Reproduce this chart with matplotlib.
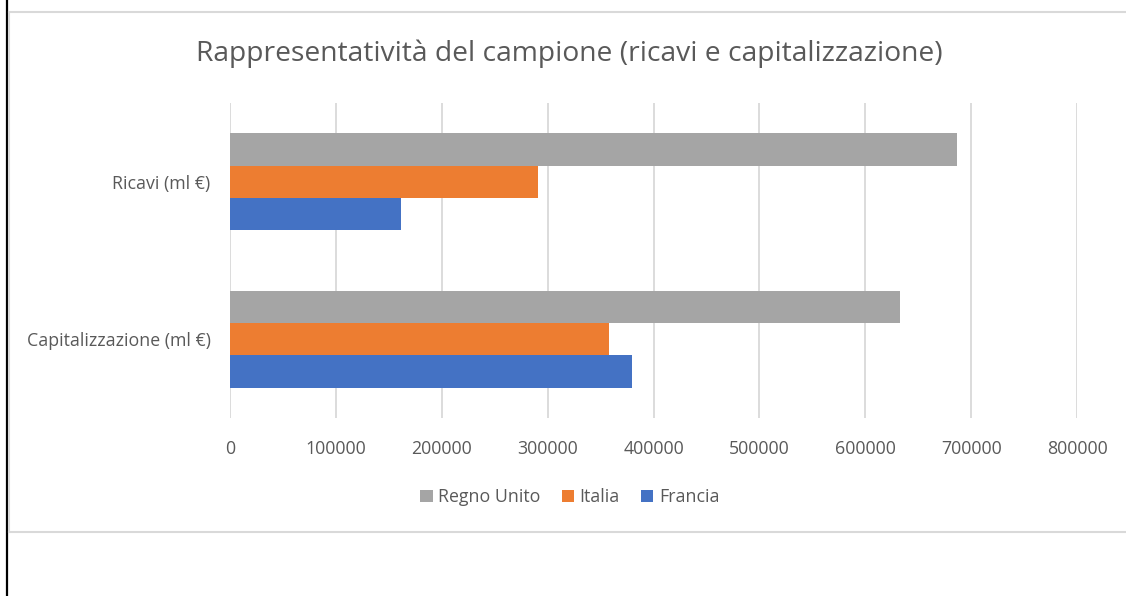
import matplotlib.pyplot as plt
import numpy as np
from matplotlib.lines import Line2D

plt.rcParams['font.family'] = ['Open Sans', 'DejaVu Sans']

categories = ["Capitalizzazione (ml €)", "Ricavi (ml €)"]
francia = [379500, 161500]
italia = [357900, 290500]
regno_unito = [632700, 686500]
xticks = [0, 100000, 200000, 300000, 400000, 500000, 600000, 700000, 800000]

fig = plt.figure(figsize=(11.26, 5.96), dpi=100)
ax = fig.add_axes([0.2043, 0.2987, 0.7522, 0.5285])

y = np.arange(len(categories))
h = 0.205
ax.barh(y - h, francia, height=h, color="#4472c4", label="Francia", zorder=3)
ax.barh(y, italia, height=h, color="#ed7d31", label="Italia", zorder=3)
ax.barh(y + h, regno_unito, height=h, color="#a5a5a5", label="Regno Unito", zorder=3)

ax.set_xlim(0, 800000)
ax.set_ylim(-0.5, 1.5)
ax.set_xticks(xticks)
ax.set_xticklabels([str(v) for v in xticks])
ax.set_yticks(y)
ax.set_yticklabels(categories)
ax.tick_params(axis='both', length=0, labelsize=12.8, colors="#595959")
ax.tick_params(axis='x', pad=16)
ax.tick_params(axis='y', pad=14)
ax.grid(axis='x', color="#d9d9d9", linewidth=1.3, zorder=0)
for s in ax.spines.values():
    s.set_visible(False)

fig.text(0.506, 0.91, "Rappresentatività del campione (ricavi e capitalizzazione)",
         ha='center', va='center', fontsize=20.3, color="#595959")

handles, labels = ax.get_legend_handles_labels()
fig.legend(handles[::-1], labels[::-1], loc='center', bbox_to_anchor=(0.506, 0.166),
           ncol=3, frameon=False, fontsize=12.8, labelcolor="#595959",
           handlelength=0.7, handleheight=0.7, handletextpad=0.3, columnspacing=1.2)

# frame lines
fig.add_artist(Line2D([0.0062, 0.0062], [0, 1], color="black", linewidth=1.6))
fig.add_artist(Line2D([0.008, 1.0], [0.98, 0.98], color="#d9d9d9", linewidth=1.5))
fig.add_artist(Line2D([0.008, 1.0], [0.107, 0.107], color="#d9d9d9", linewidth=1.5))
fig.add_artist(Line2D([0.008, 0.008], [0.107, 0.98], color="#d9d9d9", linewidth=1.5))

fig.savefig("out.png", dpi=100)
